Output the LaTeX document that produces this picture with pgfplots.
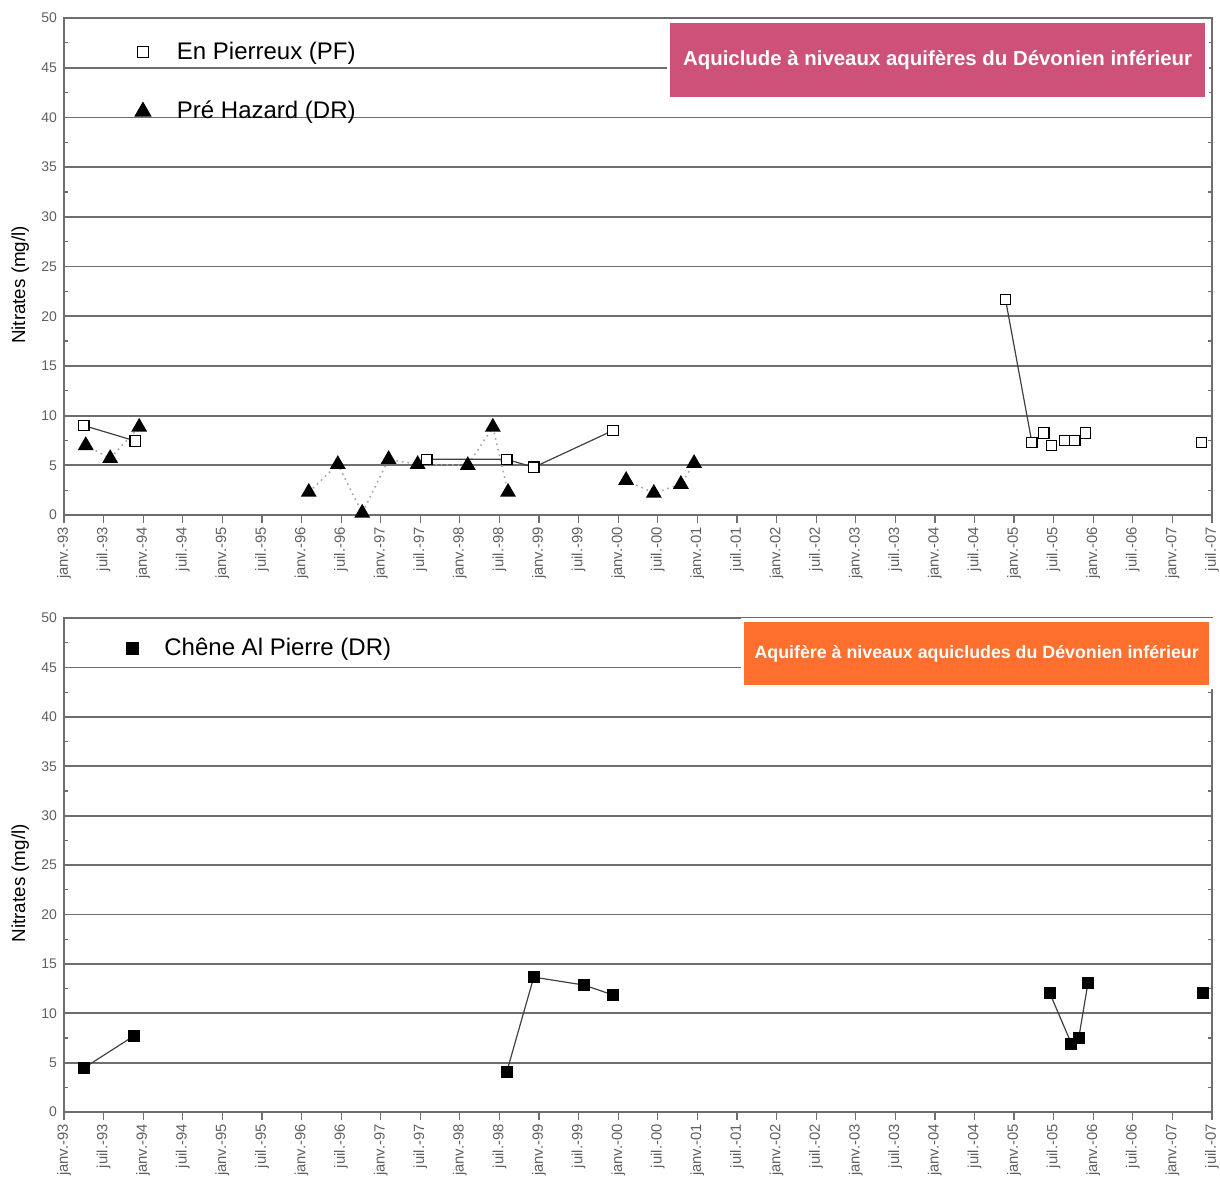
\documentclass[border=0pt]{standalone}
\usepackage{pgfplots}
\pgfplotsset{compat=1.18}
\usepackage{fontspec}
\setmainfont{Liberation Sans}
\definecolor{gridc}{RGB}{110,110,110}
\definecolor{tickc}{RGB}{95,95,95}
\definecolor{pinkbox}{RGB}{206,81,121}
\definecolor{orangebox}{RGB}{255,111,45}
\pgfplotsset{
  panel/.style={
    scale only axis, width=574pt, anchor=north west,
    xmin=0, xmax=174, ymin=0, ymax=50,
    xtick={0,6,...,174},
    xticklabels={janv.-93,juil.-93,janv.-94,juil.-94,janv.-95,juil.-95,janv.-96,juil.-96,janv.-97,juil.-97,janv.-98,juil.-98,janv.-99,juil.-99,janv.-00,juil.-00,janv.-01,juil.-01,janv.-02,juil.-02,janv.-03,juil.-03,janv.-04,juil.-04,janv.-05,juil.-05,janv.-06,juil.-06,janv.-07,juil.-07},
    x tick label style={rotate=90, anchor=east, font=\fontsize{7.4}{8}\selectfont, text=tickc, inner sep=2pt},
    xtick pos=bottom, xtick align=outside, major tick length=4pt,
    ytick={0,5,...,50}, minor ytick={2.5,7.5,...,47.5},
    ytick align=inside, minor tick length=2pt,
    y tick label style={font=\fontsize{7}{8}\selectfont, text=tickc},
    /pgf/number format/assume math mode=true,
    ymajorgrids, major grid style={gridc, line width=0.9pt},
    axis line style={gridc, line width=0.8pt},
    every tick/.style={gridc, line width=0.6pt},
    ylabel={Nitrates (mg/l)},
    ylabel style={at={(axis description cs:-0.038,0.463)}, anchor=center, font=\fontsize{9.4}{10}\selectfont},
    unbounded coords=jump,
    clip=false,
    legend style={draw=none, fill=none, font=\fontsize{12}{14}\selectfont, row sep=15.5pt, column sep=11pt, inner sep=0pt},
    legend cell align=left,
  }
}
\begin{document}
\begin{tikzpicture}
\useasboundingbox (0,0) rectangle (610pt,-594.5pt);
% ---------- top panel ----------
\begin{axis}[panel, at={(32pt,-9pt)}, height=248.5pt,
  legend style={at={(axis description cs:0.0615,0.961)}, anchor=north west}]
\node[preaction={draw=white, line width=3.6pt}, fill=pinkbox, text=white,
  minimum width=267.5pt, minimum height=37pt, inner sep=0pt,
  font=\bfseries\fontsize{10.2}{12}\selectfont]
  at (axis description cs:0.761,0.915) {Aquiclude à niveaux aquifères du Dévonien inférieur};
\addplot[forget plot, gray!70, dotted, line width=0.8pt, mark=triangle*, mark size=3.8pt,
  mark options={solid, black, fill=black}] coordinates {
  (3.3,7.0) (7.0,5.7) (11.4,8.85) (20,nan)
  (37.1,2.3) (41.5,5.1) (45.2,0.2) (49.2,5.6) (53.6,5.1) (61.2,5.0) (65.0,8.85) (67.3,2.3) (75,nan)
  (85.2,3.5) (89.4,2.2) (93.5,3.1) (95.5,5.2)
};
\addplot[forget plot, black!75, line width=0.6pt, mark=square*, mark size=2.6pt,
  mark options={solid, black, fill=white, line width=0.6pt}] coordinates {
  (3.0,9.0) (10.8,7.45) (30,nan)
  (55,5.6) (67.1,5.6) (71.2,4.8) (83.2,8.5) (100,nan)
  (142.7,21.7) (146.7,7.3) (147.5,nan)
  (148.5,8.25) (149.1,nan)
  (149.7,7.0) (150.7,nan)
  (151.7,7.5) (152.4,nan)
  (153.2,7.5) (154.0,nan)
  (154.8,8.25) (160,nan)
  (172.4,7.3)
};
\addlegendimage{only marks, mark=square*, mark size=2.8pt, mark options={black, fill=white, line width=0.7pt}}
\addlegendentry{En Pierreux (PF)}
\addlegendimage{only marks, mark=triangle*, mark size=4.6pt, mark options={black, fill=black}}
\addlegendentry{Pré Hazard (DR)}
\end{axis}
% ---------- bottom panel ----------
\begin{axis}[panel, at={(32pt,-309pt)}, height=247pt,
  legend style={at={(axis description cs:0.054,0.969)}, anchor=north west}]
\node[preaction={draw=white, line width=3.6pt}, fill=orangebox, text=white,
  minimum width=232.5pt, minimum height=31.5pt, inner sep=0pt,
  font=\bfseries\fontsize{8.9}{10}\selectfont]
  at (axis description cs:0.795,0.928) {Aquifère à niveaux aquicludes du Dévonien inférieur};
\addplot[forget plot, black!75, line width=0.6pt, mark=square*, mark size=2.7pt,
  mark options={solid, black, fill=black}] coordinates {
  (3.0,4.45) (10.6,7.7) (30,nan)
  (67.1,4.05) (71.2,13.65) (78.8,12.85) (83.2,11.85) (100,nan)
  (149.4,12.05) (152.7,6.9) (153.8,7.5) (155.2,13.05) (160,nan)
  (172.6,12.05)
};
\addlegendimage{only marks, mark=square*, mark size=3pt, mark options={black, fill=black}}
\addlegendentry{Chêne Al Pierre (DR)}
\end{axis}
\end{tikzpicture}
\end{document}
